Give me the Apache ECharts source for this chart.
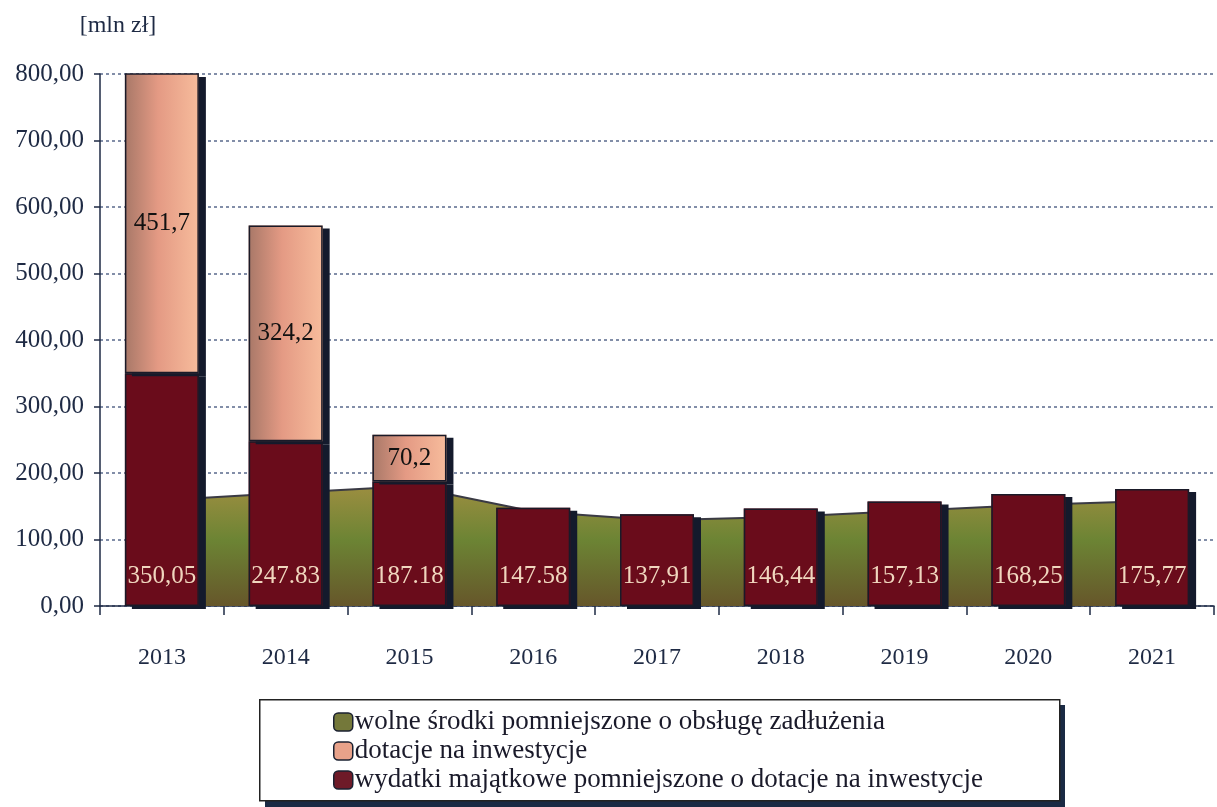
<!DOCTYPE html>
<html>
<head>
<meta charset="utf-8">
<script src="https://cdn.jsdelivr.net/npm/echarts@6/dist/echarts.min.js"></script>
<style>
html,body{margin:0;padding:0;background:#fff;}
#chart{width:1217px;height:807px;}
</style>
</head>
<body>
<div id="chart"></div>
<script>
// ---- data ----
const years = ['2013','2014','2015','2016','2017','2018','2019','2020','2021'];
const wolneSrodki = [159, 170, 180, 142, 129, 134, 143, 152, 158];
const wydatkiMajatkowe = [350.05, 247.83, 187.18, 147.58, 137.91, 146.44, 157.13, 168.25, 175.77];
const wydatkiLabels = ['350,05','247.83','187.18','147.58','137,91','146,44','157,13','168,25','175,77'];
const dotacje = [451.7, 324.2, 70.2, null, null, null, null, null, null];
const dotacjeLabels = ['451,7','324,2','70,2','','','','','',''];
const yTicks = [0, 100, 200, 300, 400, 500, 600, 700, 800];

const nameWolne = 'wolne środki pomniejszone o obsługę zadłużenia';
const nameDotacje = 'dotacje na inwestycje';
const nameWydatki = 'wydatki majątkowe pomniejszone o dotacje na inwestycje';

const serif = "'Liberation Serif','Times New Roman',serif";
const axisColor = '#1e2a44';
const shadowDark = '#141a2c';

const greenFill = new echarts.graphic.LinearGradient(0, 0, 0, 1, [
  {offset: 0, color: '#9c8e40'},
  {offset: 0.45, color: '#6c8434'},
  {offset: 1, color: '#66562a'}
]);
const orangeFill = new echarts.graphic.LinearGradient(0, 0, 1, 0, [
  {offset: 0, color: '#a87868'},
  {offset: 0.45, color: '#e49a84'},
  {offset: 1, color: '#f7bc9c'}
]);
const redFill = '#6a0c1b';

const fillBar = (name, data, color, labelCfg) => ({
  name, type: 'bar', stack: 'fill', data, z: 3, barWidth: 74, barGap: '-100%',
  itemStyle: {color, borderWidth: 0, shadowColor: shadowDark, shadowOffsetX: 7, shadowOffsetY: 3, shadowBlur: 0},
  label: labelCfg
});
const outlineBar = (name, data) => ({
  name, type: 'bar', stack: 'outline', data, z: 4, barWidth: 74, barGap: '-100%',
  silent: true, legendHoverLink: false,
  itemStyle: {color: 'rgba(0,0,0,0)', borderColor: '#1a1a28', borderWidth: 1.5},
  label: {show: false}
});

const chart = echarts.init(document.getElementById('chart'), null, {renderer: 'canvas'});
chart.setOption({
  backgroundColor: '#fff',
  animation: false,
  textStyle: {fontFamily: serif},
  grid: {left: 100, right: 3, top: 74, bottom: 201, containLabel: false},
  graphic: [
    {type: 'rect', left: 265, top: 705, shape: {width: 800, height: 102}, style: {fill: '#1a2a44'}, z: 0},
    {type: 'rect', left: 259, top: 699, shape: {width: 800, height: 101}, style: {fill: '#fff', stroke: '#222', lineWidth: 1.5}, z: 1}
  ],
  legend: {
    orient: 'vertical',
    left: 333,
    top: 708,
    padding: 0,
    itemGap: 1,
    itemWidth: 19,
    itemHeight: 18,
    z: 10,
    textStyle: {fontFamily: serif, fontSize: 27, lineHeight: 28, color: '#1a1a2a', padding: [0,0,0,-3]},
    data: [
      {name: nameWolne, icon: 'roundRect', itemStyle: {color: '#74783a', borderColor: '#1a2030', borderWidth: 1.5}},
      {name: nameDotacje, icon: 'roundRect', itemStyle: {color: '#e8a28a', borderColor: '#1a2030', borderWidth: 1.5}},
      {name: nameWydatki, icon: 'roundRect', itemStyle: {color: '#6e1a28', borderColor: '#1a2030', borderWidth: 1.5}}
    ]
  },
  xAxis: {
    type: 'category',
    data: years,
    boundaryGap: true,
    axisLine: {lineStyle: {color: axisColor, width: 1.5}},
    axisTick: {show: true, length: 9, lineStyle: {color: axisColor, width: 1.5}},
    axisLabel: {fontFamily: serif, fontSize: 24, color: axisColor, margin: 40}
  },
  yAxis: {
    type: 'value',
    min: 0,
    max: 800,
    interval: 100,
    name: '[mln zł]',
    nameGap: 36,
    nameTextStyle: {fontFamily: serif, fontSize: 24, color: axisColor, align: 'center', padding: [0, 0, 0, 36]},
    axisLine: {show: true, lineStyle: {color: axisColor, width: 1.5}},
    axisTick: {show: true, length: 6, lineStyle: {color: axisColor, width: 1.5}},
    axisLabel: {
      fontFamily: serif, fontSize: 25, color: axisColor, margin: 16,
      formatter: v => yTicks.includes(v) ? v.toFixed(2).replace('.', ',') : ''
    },
    splitLine: {show: true, lineStyle: {color: '#5a6a8c', type: [3, 3], width: 1.5}}
  },
  series: [
    {
      name: nameWolne,
      type: 'line',
      data: wolneSrodki,
      z: 1,
      symbol: 'none',
      smooth: false,
      lineStyle: {color: '#3a3a44', width: 2},
      itemStyle: {color: '#74783a'},
      areaStyle: {color: greenFill, opacity: 1}
    },
    fillBar(nameWydatki, wydatkiMajatkowe, redFill, {
      show: true, position: 'insideBottom', distance: 17,
      fontFamily: serif, fontSize: 25, color: '#f0d6be',
      formatter: p => wydatkiLabels[p.dataIndex]
    }),
    fillBar(nameDotacje, dotacje, orangeFill, {
      show: true, position: 'inside',
      fontFamily: serif, fontSize: 25, color: '#111',
      formatter: p => dotacjeLabels[p.dataIndex]
    }),
    outlineBar(nameWydatki, wydatkiMajatkowe),
    outlineBar(nameDotacje, dotacje)
  ]
});
</script>
</body>
</html>
